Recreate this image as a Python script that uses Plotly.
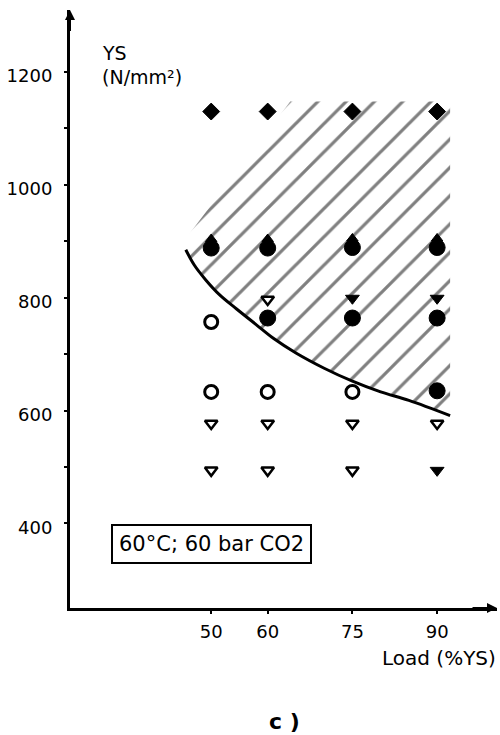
import plotly.graph_objects as go

# ---- data ----
load_ticks = [50, 60, 75, 90]
load_tick_labels = ["50", "60", "75", "90"]
ys_tick_vals = [400, 600, 800, 1000, 1200]
ys_minor_vals = [500, 700, 900, 1100]

diamond_x = [50, 60, 75, 90]
diamond_y = [1130, 1130, 1130, 1130]

row900_circle_x = [50, 60, 75, 90]
row900_circle_y = [888, 888, 889, 889]
row900_tri_x = [50, 60, 75, 90]
row900_tri_y = [904, 904, 905, 905]

row800_tri_open_x = [60]
row800_tri_open_y = [797]
row800_tri_fill_x = [75, 90]
row800_tri_fill_y = [799, 799]
row765_circ_fill_x = [60, 75, 90]
row765_circ_fill_y = [764, 764, 764]
row760_circ_open_x = [50]
row760_circ_open_y = [757]

row635_open_x = [50, 60, 75]
row635_open_y = [633, 633, 633]
row635_fill_x = [90]
row635_fill_y = [635]

row578_open_x = [50, 60, 75, 90]
row578_open_y = [577, 577, 577, 577]

row495_open_x = [50, 60, 75]
row495_open_y = [494, 494, 494]
row495_fill_x = [90]
row495_fill_y = [494]

curve_x = [45.5, 47.0, 49.0, 51.5, 54.5, 58.0, 61.0, 65.0, 70.0, 75.0, 80.0, 85.0, 92.3]
curve_y = [885, 858, 832, 805, 780, 752, 728, 702, 675, 652, 633, 618, 591]

region_x = curve_x + [92.3, 64.0, 45.5]
region_y = curve_y + [1148, 1148, 905]

FONT = "DejaVu Sans"

fig = go.Figure()

# hatched region
fig.add_trace(go.Scatter(
    x=region_x, y=region_y, mode="lines", fill="toself",
    line=dict(width=0, color="rgba(0,0,0,0)"),
    fillcolor="rgba(0,0,0,0)",
    fillpattern=dict(shape="/", size=20, solidity=0.16,
                     fgcolor="black", bgcolor="rgba(0,0,0,0)"),
    hoverinfo="skip", showlegend=False))

# boundary curve
fig.add_trace(go.Scatter(
    x=curve_x, y=curve_y, mode="lines",
    line=dict(color="black", width=3, shape="spline"),
    showlegend=False))


def add_markers(xs, ys, symbol, size, filled, lw=2.5):
    fig.add_trace(go.Scatter(
        x=xs, y=ys, mode="markers", showlegend=False,
        marker=dict(symbol=symbol, size=size,
                    color="black" if filled else "white",
                    line=dict(color="black", width=lw))))


add_markers(diamond_x, diamond_y, "diamond", 13, True, 1)
add_markers(row900_tri_x, row900_tri_y, "triangle-up", 10, True, 1)
add_markers(row900_circle_x, row900_circle_y, "circle", 16, True, 1)
add_markers(row800_tri_fill_x, row800_tri_fill_y, "triangle-down", 12, True, 1)
add_markers(row765_circ_fill_x, row765_circ_fill_y, "circle", 16, True, 1)
add_markers(row800_tri_open_x, row800_tri_open_y, "triangle-down", 11, False, 2.5)
add_markers(row760_circ_open_x, row760_circ_open_y, "circle", 13, False, 3)
add_markers(row635_open_x, row635_open_y, "circle", 13, False, 3)
add_markers(row635_fill_x, row635_fill_y, "circle", 16, True, 1)
add_markers(row578_open_x, row578_open_y, "triangle-down", 11, False, 2.5)
add_markers(row495_open_x, row495_open_y, "triangle-down", 11, False, 2.5)
add_markers(row495_fill_x, row495_fill_y, "triangle-down", 12, True, 1)

fig.update_layout(
    width=500, height=735,
    margin=dict(l=70, r=3, t=10, b=127),
    paper_bgcolor="white", plot_bgcolor="white",
    font=dict(family=FONT, size=18, color="black"),
    showlegend=False,
    xaxis=dict(range=[25, 100.6], showgrid=False, zeroline=False,
               showline=True, linecolor="black", linewidth=3,
               tickmode="array", tickvals=load_ticks, ticktext=load_tick_labels,
               ticks="outside", ticklen=3, tickwidth=2, tickcolor="black",
               ticklabelstandoff=2,
               tickfont=dict(family=FONT, size=18, color="black")),
    yaxis=dict(range=[250, 1310], showgrid=False, zeroline=False,
               showline=True, linecolor="black", linewidth=3,
               tickmode="array", tickvals=ys_tick_vals,
               ticks="outside", ticklen=3, tickwidth=2, tickcolor="black",
               ticklabelstandoff=8, ticklabelshift=4,
               minor=dict(tickmode="array", tickvals=ys_minor_vals,
                          ticks="outside", ticklen=3, tickwidth=2,
                          tickcolor="black"),
               tickfont=dict(family=FONT, size=18, color="black")),
)

# axis arrows
fig.add_annotation(x=25, y=1310, ax=25, ay=1270, xref="x", yref="y",
                   axref="x", ayref="y", text="", showarrow=True,
                   arrowhead=2, arrowsize=1, arrowwidth=2, arrowcolor="black")
fig.add_annotation(x=100.6, y=250, ax=96, ay=250, xref="x", yref="y",
                   axref="x", ayref="y", text="", showarrow=True,
                   arrowhead=2, arrowsize=1, arrowwidth=2, arrowcolor="black")

# texts
fig.add_annotation(x=30.3, y=1234, xref="x", yref="y", text="YS",
                   showarrow=False, xanchor="left", yanchor="middle",
                   font=dict(family=FONT, size=19))
fig.add_annotation(x=30.3, y=1191, xref="x", yref="y", text="(N/mm²)",
                   showarrow=False, xanchor="left", yanchor="middle",
                   font=dict(family=FONT, size=19))
fig.add_annotation(x=1, y=-0.084, xref="paper", yref="paper", text="Load (%YS)",
                   showarrow=False, xanchor="right", yanchor="middle", xshift=1,
                   font=dict(family=FONT, size=20))
fig.add_annotation(x=50, y=364, xref="x", yref="y", text="60°C; 60 bar CO2",
                   showarrow=False, xanchor="center", yanchor="middle",
                   bordercolor="black", borderwidth=2, borderpad=6,
                   bgcolor="white", font=dict(family=FONT, size=21))
fig.add_annotation(x=0.5035, y=-0.1906, xref="paper", yref="paper", text="<b>c )</b>",
                   showarrow=False, xanchor="center", yanchor="middle",
                   font=dict(family=FONT, size=22))

fig.write_html("out.html")
